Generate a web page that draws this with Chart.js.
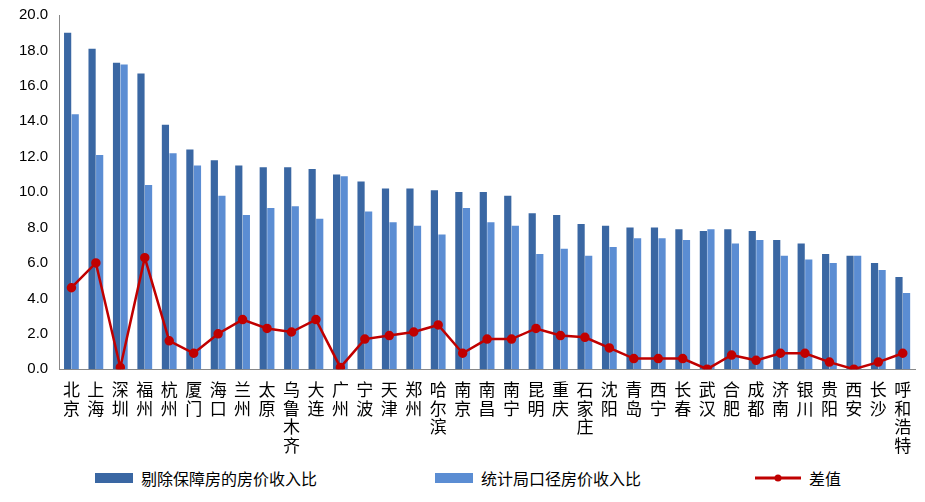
<!DOCTYPE html>
<html><head><meta charset="utf-8">
<script src="https://cdn.jsdelivr.net/npm/chart.js@4"></script>
<style>
body{margin:0;background:#fff;font-family:"Noto Sans CJK SC",sans-serif;}
#wrap{position:relative;width:925px;height:458px;}
#leg{position:absolute;top:466px;left:0;width:925px;height:30px;font-size:16px;color:#000;}
.it{position:absolute;top:0;display:flex;align-items:center;}
.sw{width:38px;height:10px;margin-right:8px;}
</style></head><body>
<div id="wrap"><canvas id="c"></canvas></div>
<div id="leg">
<div class="it" style="left:95px"><span class="sw" style="background:#3A67A3"></span>剔除保障房的房价收入比</div>
<div class="it" style="left:435px"><span class="sw" style="background:#5B8DD3"></span>统计局口径房价收入比</div>
<div class="it" style="left:755px"><svg width="46" height="12" style="margin-right:8px"><line x1="0" y1="6" x2="46" y2="6" stroke="#C00000" stroke-width="3"/><circle cx="23" cy="6" r="3.5" fill="#C00000"/></svg>差值</div>
</div>
<script>
const cities=["北京","上海","深圳","福州","杭州","厦门","海口","兰州","太原","乌鲁木齐","大连","广州","宁波","天津","郑州","哈尔滨","南京","南昌","南宁","昆明","重庆","石家庄","沈阳","青岛","西宁","长春","武汉","合肥","成都","济南","银川","贵阳","西安","长沙","呼和浩特"];
const excl=[19.0,18.1,17.3,16.7,13.8,12.4,11.8,11.5,11.4,11.4,11.3,11.0,10.6,10.2,10.2,10.1,10.0,10.0,9.8,8.8,8.7,8.2,8.1,8.0,8.0,7.9,7.8,7.9,7.8,7.3,7.1,6.5,6.4,6.0,5.2];
const stat=[14.4,12.1,17.2,10.4,12.2,11.5,9.8,8.7,9.1,9.2,8.5,10.9,8.9,8.3,8.1,7.6,9.1,8.3,8.1,6.5,6.8,6.4,6.9,7.4,7.4,7.3,7.9,7.1,7.3,6.4,6.2,6.0,6.4,5.6,4.3];
const diff=[4.6,6.0,0.1,6.3,1.6,0.9,2.0,2.8,2.3,2.1,2.8,0.1,1.7,1.9,2.1,2.5,0.9,1.7,1.7,2.3,1.9,1.8,1.2,0.6,0.6,0.6,0.0,0.8,0.5,0.9,0.9,0.4,0.0,0.4,0.9];
const yTicks=[0,2,4,6,8,10,12,14,16,18,20];
new Chart(document.getElementById('c'),{
 data:{labels:cities.map(s=>s.split('')),datasets:[
  {type:'line',label:'差值',data:diff,borderColor:'#C00000',backgroundColor:'#C00000',borderWidth:2.5,pointRadius:3.5,pointBackgroundColor:'#C00000',tension:0,order:0},
  {type:'bar',label:'剔除保障房的房价收入比',data:excl,backgroundColor:'#3A67A3',categoryPercentage:0.62,barPercentage:0.95,order:1},
  {type:'bar',label:'统计局口径房价收入比',data:stat,backgroundColor:'#5B8DD3',categoryPercentage:0.62,barPercentage:0.95,order:1}
 ]},
 options:{responsive:true,maintainAspectRatio:false,animation:false,
  layout:{padding:{left:16,right:10,top:15,bottom:0}},
  plugins:{legend:{display:false},tooltip:{enabled:false}},
  scales:{
   x:{grid:{display:false,drawTicks:true},border:{color:'#888'},ticks:{autoSkip:false,maxRotation:0,color:'#000',font:{size:17,family:'"Noto Sans CJK SC"',lineHeight:1.1}}},
   y:{min:0,max:20,afterBuildTicks:a=>{a.ticks=yTicks.map(v=>({value:v}))},grid:{display:false},border:{color:'#888'},ticks:{color:'#000',font:{size:15,family:'"Liberation Sans"'},callback:v=>v.toFixed(1)}}
  }}
});
</script></body></html>
